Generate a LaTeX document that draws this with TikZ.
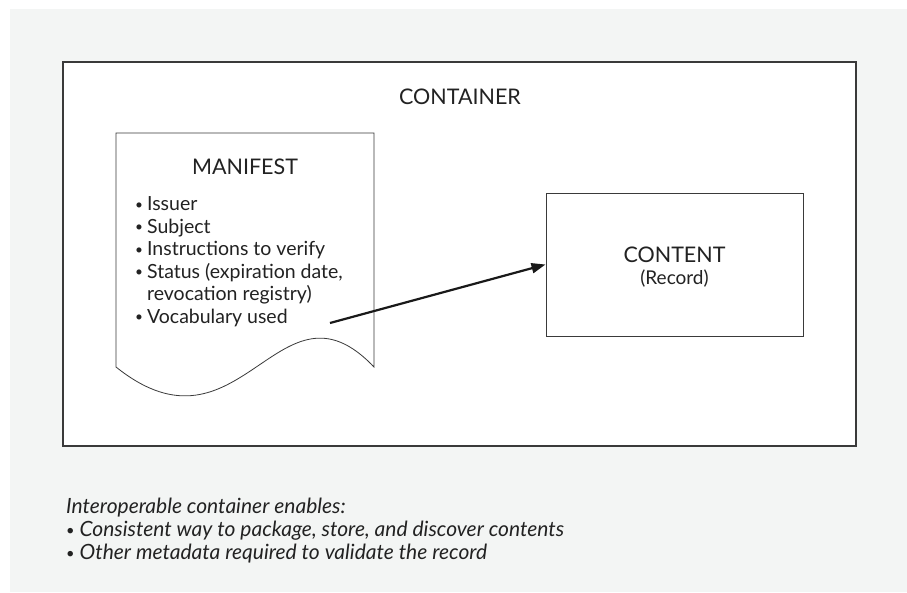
\documentclass[tikz,border=0pt]{standalone}
\usepackage{fontspec}
\setmainfont{Lato}
\usepackage{tikz}
\usetikzlibrary{arrows.meta,positioning}
\definecolor{pagegray}{HTML}{F3F5F4}
\definecolor{linegray}{HTML}{3A3A3A}
\definecolor{inkgray}{HTML}{222222}
\newcommand{\smallbullet}{\raisebox{1.5pt}{\scalebox{0.7}{•}}}

\begin{document}
\begin{tikzpicture}[
  x=1pt, y=-1pt,
  every node/.style={text=inkgray, inner sep=0pt},
  box/.style={draw=linegray, fill=white, line width=1pt},
  title/.style={font=\fontsize{21.5}{24}\selectfont},
  items/.style={font=\fontsize{19.5}{22.5}\selectfont, align=left, anchor=north west},
  note/.style={font=\fontsize{21}{23}\selectfont\itshape, align=left, anchor=north west},
  arrow/.style={-{Triangle[length=14pt, width=10pt]}, line width=2.2pt, draw=black!90}
]
\useasboundingbox (0,0) rectangle (907,592);
\fill[pagegray] (10,9) rectangle (907,592);

% outer container
\node[box, line width=1.3pt, minimum width=793pt, minimum height=384pt] (container) at (459.5,254) {};
\node[title] (containertitle) at (460,97) {CONTAINER};

% manifest document with wavy bottom
\draw[box, line width=0.8pt] (116,133) -- (374,133) -- (374,367)
  .. controls (279,267) and (241,467) .. (116,367) -- cycle;
\node[title] (manifest) at (245,167) {MANIFEST};
\node[items] (manifestitems) at (135,195) {%
  \begin{tabular}{@{}l@{\hspace{4pt}}l@{}}
  \smallbullet & Issuer\\
  \smallbullet & Subject\\
  \smallbullet & Instructions to verify\\
  \smallbullet & Status (expiration date,\\
    & revocation registry)\\
  \smallbullet & Vocabulary used
  \end{tabular}};
\coordinate (manifestout) at (330,323);

% content
\node[box, minimum width=257pt, minimum height=143pt] (content) at (674.5,264.5) {};
\node[title] (contenttitle) at (674.5,255) {CONTENT};
\node[font=\fontsize{19}{22}\selectfont] (contentsub) at (674.5,279) {(Record)};

\draw[arrow] (manifestout) -- (content.west);

% caption
\node[note] (caption) at (66,498) {%
  Interoperable container enables:\\
  \smallbullet\ Consistent way to package, store, and discover contents\\
  \smallbullet\ Other metadata required to validate the record};
\end{tikzpicture}
\end{document}
